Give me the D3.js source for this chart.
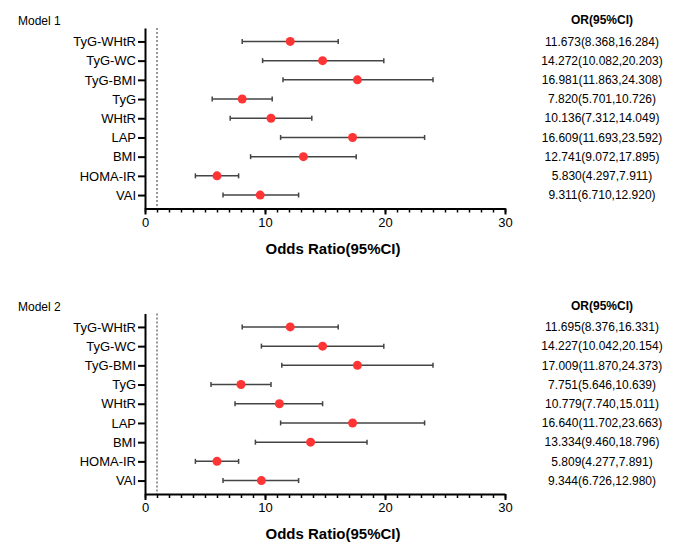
<!DOCTYPE html>
<html>
  <head>
    <meta charset="utf-8" />
    <style>
      body { margin: 0; background: #fff; }
      svg { display: block; font-family: "Liberation Sans", Arial, sans-serif; }
    </style>
  </head>
  <body>
    <svg id="chart"></svg>

    <script src="https://d3js.org/d3.v7.min.js"></script>
    <script>
      const markers = ["TyG-WHtR", "TyG-WC", "TyG-BMI", "TyG", "WHtR", "LAP", "BMI", "HOMA-IR", "VAI"];
      const xTicks = [0, 10, 20, 30];

      // positions (points and whiskers)
      const model1Or = [12.1, 14.8, 17.7, 8.1, 10.5, 17.3, 13.2, 6.0, 9.6];
      const model1Lo = [8.1, 9.8, 11.5, 5.6, 7.1, 11.3, 8.8, 4.2, 6.5];
      const model1Hi = [16.1, 19.9, 24.0, 10.6, 13.9, 23.3, 17.6, 7.8, 12.8];
      const model1Text = [
        "11.673(8.368,16.284)", "14.272(10.082,20.203)", "16.981(11.863,24.308)",
        "7.820(5.701,10.726)", "10.136(7.312,14.049)", "16.609(11.693,23.592)",
        "12.741(9.072,17.895)", "5.830(4.297,7.911)", "9.311(6.710,12.920)"
      ];

      const model2Or = [12.1, 14.8, 17.7, 8.0, 11.2, 17.3, 13.8, 6.0, 9.7];
      const model2Lo = [8.1, 9.7, 11.4, 5.5, 7.5, 11.3, 9.2, 4.2, 6.5];
      const model2Hi = [16.1, 19.9, 24.0, 10.5, 14.8, 23.3, 18.5, 7.8, 12.8];
      const model2Text = [
        "11.695(8.376,16.331)", "14.227(10.042,20.154)", "17.009(11.870,24.373)",
        "7.751(5.646,10.639)", "10.779(7.740,15.011)", "16.640(11.702,23.663)",
        "13.334(9.460,18.796)", "5.809(4.277,7.891)", "9.344(6.726,12.980)"
      ];

      const width = 685;
      const height = 547;

      const svg = d3.select("#chart").attr("width", width).attr("height", height);

      const x = d3.scaleLinear().domain([0, 30]).range([145, 505]);
      const y = d3.scalePoint().domain(markers).range([28, 208.5]).padding(0.7);

      draw_panel(0, "Model 1", model1Or, model1Lo, model1Hi, model1Text);
      draw_panel(285.5, "Model 2", model2Or, model2Lo, model2Hi, model2Text);

      function draw_panel(top, name, or, lo, hi, texts) {
        const g = svg.append("g").attr("transform", `translate(0,${top})`);
        const rows = markers.map((m, i) => ({ name: m, or: or[i], lo: lo[i], hi: hi[i], text: texts[i] }));
        const base = y.range()[1];

        g.append("text")
          .attr("x", 18)
          .attr("y", 25)
          .attr("font-size", 12)
          .text(name);

        // reference line at OR = 1
        g.append("line")
          .attr("x1", x(1)).attr("x2", x(1))
          .attr("y1", y.range()[0]).attr("y2", base)
          .attr("stroke", "#555")
          .attr("stroke-width", 1.2)
          .attr("stroke-dasharray", "2,2");

        // minor ticks
        g.append("g")
          .attr("transform", `translate(0,${base})`)
          .call(d3.axisBottom(x).tickValues(d3.range(0, 31)).tickSize(4).tickFormat(""))
          .call((a) => a.select(".domain").remove())
          .call((a) => a.selectAll("line").attr("stroke-width", 1.5));

        const xAxis = g.append("g")
          .attr("transform", `translate(0,${base})`)
          .call(d3.axisBottom(x).tickValues(xTicks).tickSize(6).tickSizeOuter(0).tickPadding(3));
        xAxis.select(".domain").attr("stroke-width", 2);
        xAxis.selectAll("line").attr("stroke-width", 2);
        xAxis.selectAll("text").attr("font-size", 13).attr("font-family", null);

        const yAxis = g.append("g")
          .attr("transform", `translate(${x(0)},0)`)
          .call(d3.axisLeft(y).tickSize(7).tickSizeOuter(0).tickPadding(2));
        yAxis.select(".domain").attr("stroke-width", 2);
        yAxis.selectAll("line").attr("stroke-width", 2);
        yAxis.selectAll("text").attr("font-size", 13).attr("font-family", null);

        g.append("text")
          .attr("x", 333)
          .attr("y", base + 45)
          .attr("text-anchor", "middle")
          .attr("font-size", 15)
          .attr("font-weight", "bold")
          .text("Odds Ratio(95%CI)");

        const ci = g.append("g").attr("stroke", "#444").attr("stroke-width", 1.5);
        ci.selectAll("line.ci")
          .data(rows)
          .join("line")
          .attr("class", "ci")
          .attr("x1", (d) => x(d.lo)).attr("x2", (d) => x(d.hi))
          .attr("y1", (d) => y(d.name)).attr("y2", (d) => y(d.name));
        ci.selectAll("line.capl")
          .data(rows)
          .join("line")
          .attr("class", "capl")
          .attr("x1", (d) => x(d.lo)).attr("x2", (d) => x(d.lo))
          .attr("y1", (d) => y(d.name) - 2.5).attr("y2", (d) => y(d.name) + 2.5);
        ci.selectAll("line.caph")
          .data(rows)
          .join("line")
          .attr("class", "caph")
          .attr("x1", (d) => x(d.hi)).attr("x2", (d) => x(d.hi))
          .attr("y1", (d) => y(d.name) - 2.5).attr("y2", (d) => y(d.name) + 2.5);

        g.append("g")
          .selectAll("circle")
          .data(rows)
          .join("circle")
          .attr("cx", (d) => x(d.or))
          .attr("cy", (d) => y(d.name))
          .attr("r", 4.5)
          .attr("fill", "#ff3535");

        g.append("text")
          .attr("x", 602)
          .attr("y", 24)
          .attr("text-anchor", "middle")
          .attr("font-size", 12)
          .attr("font-weight", "bold")
          .text("OR(95%CI)");

        g.append("g")
          .attr("font-size", 12)
          .attr("text-anchor", "middle")
          .selectAll("text")
          .data(rows)
          .join("text")
          .attr("x", 602)
          .attr("y", (d) => y(d.name))
          .attr("dy", "0.35em")
          .text((d) => d.text);
      }
    </script>
  </body>
</html>
